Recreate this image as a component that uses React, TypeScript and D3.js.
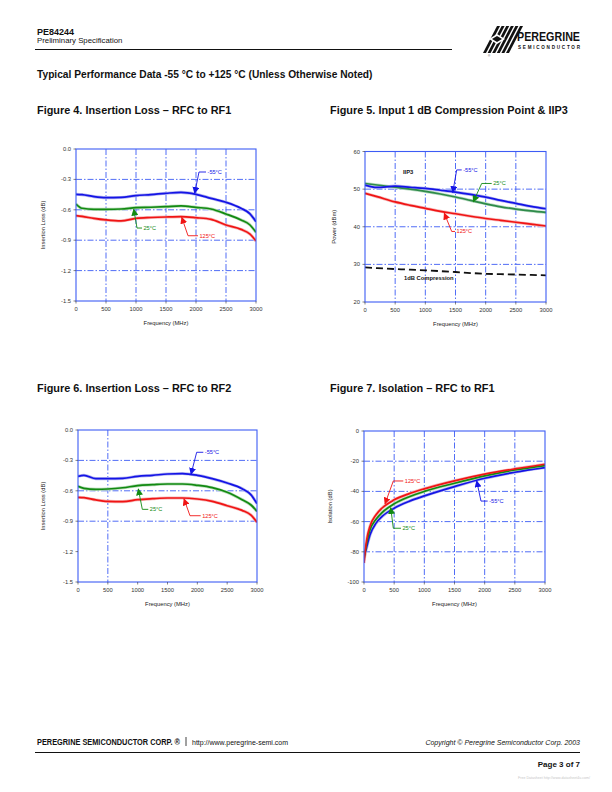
import React from 'react';
import * as d3 from 'd3';

const FONT = "'Liberation Sans', Arial, Helvetica, sans-serif";

// ---------- Figure 4: Insertion Loss RFC to RF1 ----------
const fig4Freq = [0, 100, 300, 500, 750, 1000, 1250, 1500, 1750, 2000, 2250, 2500, 2750, 2900, 3000];
const fig4Minus55 = [-0.447, -0.45, -0.47, -0.48, -0.478, -0.46, -0.45, -0.437, -0.428, -0.447, -0.487, -0.526, -0.585, -0.64, -0.717];
const fig4Plus25 = [-0.543, -0.585, -0.595, -0.595, -0.592, -0.579, -0.575, -0.569, -0.562, -0.576, -0.592, -0.641, -0.7, -0.75, -0.822];
const fig4Plus125 = [-0.658, -0.665, -0.685, -0.7, -0.71, -0.684, -0.676, -0.671, -0.668, -0.678, -0.694, -0.75, -0.793, -0.84, -0.908];

// ---------- Figure 5: Input 1dB Compression & IIP3 ----------
const fig5Freq = [0, 200, 500, 750, 1000, 1250, 1500, 1750, 2000, 2250, 2500, 2750, 3000];
const fig5IIP3Minus55 = [51.06, 50.44, 50.8, 50.5, 50.18, 49.7, 49.2, 48.6, 47.88, 47.0, 46.2, 45.4, 44.78];
const fig5IIP3Plus25 = [51.5, 51.1, 50.5, 50.0, 49.4, 48.7, 47.9, 47.0, 46.1, 45.3, 44.7, 44.2, 43.8];
const fig5IIP3Plus125 = [48.9, 48.0, 46.6, 45.7, 44.9, 44.1, 43.45, 42.8, 42.2, 41.7, 41.2, 40.7, 40.2];
const fig5P1dB = [29.2, 29.0, 28.76, 28.6, 28.4, 28.2, 27.97, 27.7, 27.5, 27.4, 27.3, 27.2, 27.1];

// ---------- Figure 6: Insertion Loss RFC to RF2 ----------
const fig6Freq = [0, 100, 300, 500, 750, 1000, 1250, 1500, 1750, 2000, 2250, 2500, 2750, 2900, 3000];
const fig6Minus55 = [-0.457, -0.447, -0.48, -0.48, -0.477, -0.457, -0.447, -0.434, -0.43, -0.447, -0.48, -0.523, -0.579, -0.64, -0.727];
const fig6Plus25 = [-0.556, -0.576, -0.585, -0.582, -0.57, -0.549, -0.54, -0.533, -0.533, -0.546, -0.569, -0.615, -0.688, -0.74, -0.803];
const fig6Plus125 = [-0.664, -0.668, -0.69, -0.704, -0.707, -0.688, -0.678, -0.671, -0.671, -0.681, -0.704, -0.747, -0.793, -0.84, -0.911];

// ---------- Figure 7: Isolation RFC to RF1 ----------
const fig7Freq = [0, 25, 50, 100, 200, 300, 500, 750, 1000, 1500, 2000, 2500, 3000];
const fig7Plus125 = [-87.4, -78, -71, -63, -55.5, -51, -45.6, -41.5, -38.3, -33, -28.6, -25.1, -22];
const fig7Plus25 = [-85, -79, -73, -65.4, -58.4, -54, -48.2, -43.5, -40, -34.6, -29.7, -25.8, -22.9];
const fig7Minus55 = [-83, -80, -76, -68.7, -61, -56.6, -51.1, -46.5, -43, -36.8, -31.3, -27.3, -24.2];

// ---------- Ticks ----------
const xTicks = [0, 500, 1000, 1500, 2000, 2500, 3000];
const xTickLabels = ['0', '500', '1000', '1500', '2000', '2500', '3000'];
const ilTicks = [0, -0.3, -0.6, -0.9, -1.2, -1.5];
const ilTickLabels = ['0.0', '-0.3', '-0.6', '-0.9', '-1.2', '-1.5'];
const pwrTicks = [60, 50, 40, 30, 20];
const pwrTickLabels = ['60', '50', '40', '30', '20'];
const isoTicks = [0, -20, -40, -60, -80, -100];
const isoTickLabels = ['0', '-20', '-40', '-60', '-80', '-100'];

const BLUE = '#1414e6';
const GREEN = '#128a12';
const RED = '#f01414';

type Series = { values: number[]; color: string; halo?: string; dash?: string; width?: number };
type Ann = { label: string; color: string; tip: [number, number]; elbow: [number, number]; end: [number, number] };
type Txt = { text: string; at: [number, number] };

type ChartProps = {
  id: string;
  left: number; top: number; width: number; height: number;
  yDomain: [number, number];
  yTicks: number[]; yTickLabels: string[];
  xGrid: number[]; yGrid: number[];
  freq: number[];
  series: Series[];
  anns: Ann[];
  texts?: Txt[];
  yTitle: string;
  yTitleX: number;
};

function Chart(p: ChartProps) {
  const x = d3.scaleLinear().domain([0, 3000]).range([p.left, p.left + p.width]);
  const y = d3.scaleLinear().domain(p.yDomain).range([p.top + p.height, p.top]);
  const line = d3
    .line<number>()
    .x((_, i) => x(p.freq[i]))
    .y((d) => y(d))
    .curve(d3.curveMonotoneX);
  const gridColor = '#3d5cf5';
  const bottom = p.top + p.height;
  return (
    <g>
      <defs>
        {p.anns.map((a, i) => (
          <marker key={i} id={`${p.id}-arr-${i}`} viewBox="0 0 10 10" refX="9" refY="5" markerWidth="7" markerHeight="7" markerUnits="userSpaceOnUse" orient="auto">
            <path d="M0,0 L10,5 L0,10 z" fill={a.color} />
          </marker>
        ))}
        <clipPath id={`${p.id}-clip`}>
          <rect x={p.left} y={p.top - 1} width={p.width} height={p.height + 2} />
        </clipPath>
      </defs>
      {p.xGrid.map((g) => (
        <line key={'xg' + g} x1={x(g)} x2={x(g)} y1={p.top} y2={bottom} stroke={gridColor} strokeWidth={0.9} strokeDasharray="6,2,1.5,2" />
      ))}
      {p.yGrid.map((g) => (
        <line key={'yg' + g} x1={p.left} x2={p.left + p.width} y1={y(g)} y2={y(g)} stroke={gridColor} strokeWidth={0.9} strokeDasharray="6,2,1.5,2" />
      ))}
      <g clipPath={`url(#${p.id}-clip)`}>
        {p.series.map((s, i) =>
          s.halo ? (
            <path key={'h' + i} d={line(s.values) || ''} fill="none" stroke={s.halo} strokeWidth={(s.width || 1.7) + 1.4} strokeLinejoin="round" />
          ) : null
        )}
        {p.series.map((s, i) => (
          <path key={'s' + i} d={line(s.values) || ''} fill="none" stroke={s.color} strokeWidth={s.width || 1.7} strokeDasharray={s.dash} strokeLinejoin="round" />
        ))}
      </g>
      <rect x={p.left} y={p.top} width={p.width} height={p.height} fill="none" stroke={gridColor} strokeWidth={1.1} />
      {p.yTicks.map((t, i) => (
        <g key={'yt' + t}>
          <line x1={p.left - 2.5} x2={p.left} y1={y(t)} y2={y(t)} stroke="#333" strokeWidth={0.6} />
          <text x={p.left - 5} y={y(t)} dy="0.35em" textAnchor="end" fontSize={5.8} fill="#333" fontFamily={FONT}>
            {p.yTickLabels[i]}
          </text>
        </g>
      ))}
      {xTicks.map((t, i) => (
        <g key={'xt' + t}>
          <line x1={x(t)} x2={x(t)} y1={bottom} y2={bottom + 2.5} stroke="#333" strokeWidth={0.6} />
          <text x={x(t)} y={bottom + 9.5} textAnchor="middle" fontSize={5.8} fill="#333" fontFamily={FONT}>
            {xTickLabels[i]}
          </text>
        </g>
      ))}
      <text x={p.left + p.width / 2} y={bottom + 24} textAnchor="middle" fontSize={5.8} fill="#222" fontFamily={FONT}>
        Frequency (MHz)
      </text>
      <text
        transform={`translate(${p.yTitleX},${p.top + p.height / 2}) rotate(-90)`}
        textAnchor="middle"
        fontSize={5.8}
        fill="#222"
        fontFamily={FONT}
      >
        {p.yTitle}
      </text>
      {p.anns.map((a, i) => {
        const ex = x(a.end[0]);
        const ey = y(a.end[1]);
        const bx = x(a.elbow[0]);
        const by = y(a.elbow[1]);
        const tx = x(a.tip[0]);
        const ty = y(a.tip[1]);
        return (
          <g key={'a' + i}>
            <path d={`M${ex},${ey} L${bx},${by} L${tx},${ty}`} fill="none" stroke={a.color} strokeWidth={0.9} markerEnd={`url(#${p.id}-arr-${i})`} />
            <text x={ex + 1.5} y={ey} dy="0.35em" fontSize={5.6} fill={a.color} fontFamily={FONT}>
              {a.label}
            </text>
          </g>
        );
      })}
      {(p.texts || []).map((t, i) => (
        <text key={'t' + i} x={x(t.at[0])} y={y(t.at[1])} dy="0.35em" fontSize={5.8} fontWeight="bold" fill="#111" fontFamily={FONT}>
          {t.text}
        </text>
      ))}
    </g>
  );
}

function Logo() {
  const stripes = [0, 1, 2, 3, 4, 5];
  return (
    <g>
      {stripes.map((i) => {
        const x0 = 483 + i * 4.6;
        return <polygon key={i} points={`${x0},53 ${x0 + 3},53 ${x0 + 17},26 ${x0 + 14},26`} fill="#111" />;
      })}
      <polygon points="497,34 505,39 497,44 489,39" fill="#fff" />
      <polygon points="497,36 502,39 497,42 492,39" fill="#111" />
      <text x={488} y={57} fontSize={3} fill="#333" fontFamily={FONT}>®</text>
      <text x={517} y={41} fontSize={13} fontWeight="bold" fill="#111" fontFamily="'Liberation Sans Narrow', 'Liberation Sans', Arial, sans-serif" textLength={63} lengthAdjust="spacingAndGlyphs">
        PEREGRINE
      </text>
      <text x={518} y={48.5} fontSize={4.6} fontWeight="bold" fill="#111" fontFamily={FONT} textLength={62} lengthAdjust="spacing">
        SEMICONDUCTOR
      </text>
    </g>
  );
}

export default function App() {
  return (
    <svg width={612} height={792} viewBox="0 0 612 792" style={{ position: 'absolute', left: 0, top: 0, background: '#fff' }} fontFamily={FONT}>
      <rect x={0} y={0} width={612} height={792} fill="#fff" />
      <text x={37} y={35} fontSize={9} fontWeight="bold" fill="#111">PE84244</text>
      <text x={37} y={43} fontSize={7.8} fill="#111">Preliminary Specification</text>
      <line x1={35} x2={452} y1={49.5} y2={49.5} stroke="#111" strokeWidth={1} />
      <Logo />

      <text x={37} y={78} fontSize={10.2} fontWeight="bold" fill="#111">
        Typical Performance Data -55 °C to +125 °C (Unless Otherwise Noted)
      </text>

      <text x={37} y={114} fontSize={10.9} fontWeight="bold" fill="#111">Figure 4. Insertion Loss – RFC to RF1</text>
      <text x={330} y={114} fontSize={10.9} fontWeight="bold" fill="#111">Figure 5. Input 1 dB Compression Point &amp; IIP3</text>
      <text x={37} y={392} fontSize={10.9} fontWeight="bold" fill="#111">Figure 6. Insertion Loss – RFC to RF2</text>
      <text x={330} y={392} fontSize={10.9} fontWeight="bold" fill="#111">Figure 7. Isolation – RFC to RF1</text>

      <Chart
        id="f4"
        left={76} top={149} width={180} height={152}
        yDomain={[-1.5, 0]} yTicks={ilTicks} yTickLabels={ilTickLabels}
        xGrid={[500, 1000, 1500, 2000, 2500]} yGrid={[-0.3, -0.6, -0.9, -1.2]}
        freq={fig4Freq}
        series={[
          { values: fig4Minus55, color: BLUE, halo: '#b8b8f0' },
          { values: fig4Plus25, color: GREEN, halo: '#b8dcb8' },
          { values: fig4Plus125, color: RED, halo: '#f6b8b8' },
        ]}
        anns={[
          { label: '-55°C', color: BLUE, tip: [1978, -0.437], elbow: [2050, -0.227], end: [2167, -0.227] },
          { label: '25°C', color: GREEN, tip: [962, -0.595], elbow: [1017, -0.78], end: [1100, -0.78] },
          { label: '125°C', color: RED, tip: [1762, -0.674], elbow: [1867, -0.856], end: [2033, -0.856] },
        ]}
        yTitle="Insertion Loss (dB)" yTitleX={45}
      />

      <Chart
        id="f5"
        left={365} top={151.5} width={181} height={150.5}
        yDomain={[20, 60]} yTicks={pwrTicks} yTickLabels={pwrTickLabels}
        xGrid={[500, 1000, 1500, 2000, 2500]} yGrid={[30, 40, 50]}
        freq={fig5Freq}
        series={[
          { values: fig5IIP3Plus25, color: '#2e8b4a', halo: '#bcdcc4' },
          { values: fig5IIP3Minus55, color: BLUE, halo: '#b8b8f0' },
          { values: fig5IIP3Plus125, color: RED, halo: '#f6b8b8' },
          { values: fig5P1dB, color: '#111', dash: '7,4', width: 1.8 },
        ]}
        anns={[
          { label: '-55°C', color: BLUE, tip: [1454, 49.1], elbow: [1520, 55.1], end: [1603, 55.1] },
          { label: '25°C', color: GREEN, tip: [1795, 46.6], elbow: [1934, 51.5], end: [2100, 51.5] },
          { label: '125°C', color: RED, tip: [1314, 43.6], elbow: [1437, 38.75], end: [1492, 38.75] },
        ]}
        texts={[
          { text: 'IIP3', at: [630, 54.6] },
          { text: '1dB Compression', at: [646, 26.5] },
        ]}
        yTitle="Power (dBm)" yTitleX={336}
      />

      <Chart
        id="f6"
        left={78} top={430} width={179} height={152}
        yDomain={[-1.5, 0]} yTicks={ilTicks} yTickLabels={ilTickLabels}
        xGrid={[500]} yGrid={[-0.3, -0.6, -0.9]}
        freq={fig6Freq}
        series={[
          { values: fig6Minus55, color: BLUE, halo: '#b8b8f0' },
          { values: fig6Plus25, color: GREEN, halo: '#b8dcb8' },
          { values: fig6Plus125, color: RED, halo: '#f6b8b8' },
        ]}
        anns={[
          { label: '-55°C', color: BLUE, tip: [1894, -0.437], elbow: [1989, -0.22], end: [2100, -0.22] },
          { label: '25°C', color: GREEN, tip: [1011, -0.582], elbow: [1078, -0.783], end: [1178, -0.783] },
          { label: '125°C', color: RED, tip: [1777, -0.681], elbow: [1877, -0.846], end: [2056, -0.846] },
        ]}
        yTitle="Insertion Loss (dB)" yTitleX={45}
      />

      <Chart
        id="f7"
        left={364} top={431} width={181} height={151}
        yDomain={[-100, 0]} yTicks={isoTicks} yTickLabels={isoTickLabels}
        xGrid={[500, 1000, 1500, 2000, 2500]} yGrid={[-20, -40, -60, -80]}
        freq={fig7Freq}
        series={[
          { values: fig7Minus55, color: BLUE, halo: '#b8b8f0' },
          { values: fig7Plus25, color: GREEN, halo: '#b8dcb8' },
          { values: fig7Plus125, color: RED, halo: '#f6b8b8' },
        ]}
        anns={[
          { label: '125°C', color: RED, tip: [348, -48.3], elbow: [486, -33.1], end: [651, -33.1] },
          { label: '25°C', color: GREEN, tip: [443, -50.8], elbow: [486, -64.4], end: [613, -64.4] },
          { label: '-55°C', color: BLUE, tip: [1868, -33.1], elbow: [1939, -46.4], end: [2050, -46.4] },
        ]}
        yTitle="Isolation (dB)" yTitleX={332}
      />

      <text x={37} y={745} fontSize={8.2} fontWeight="bold" fill="#111" textLength={143} lengthAdjust="spacingAndGlyphs">
        PEREGRINE SEMICONDUCTOR CORP. ®
      </text>
      <line x1={186} x2={186} y1={737} y2={746} stroke="#111" strokeWidth={0.8} />
      <text x={192} y={744.5} fontSize={7} fill="#111">http://www.peregrine-semi.com</text>
      <text x={580} y={744.5} fontSize={7} fontStyle="italic" fill="#111" textAnchor="end">
        Copyright © Peregrine Semiconductor Corp. 2003
      </text>
      <line x1={35} x2={580} y1={752.5} y2={752.5} stroke="#111" strokeWidth={1} />
      <text x={580} y={767} fontSize={8} fontWeight="bold" fill="#111" textAnchor="end">Page 3 of 7</text>
      <text x={590} y={779} fontSize={3.6} fill="#c8c8c8" textAnchor="end">Free Datasheet http://www.datasheet4u.com/</text>
    </svg>
  );
}
